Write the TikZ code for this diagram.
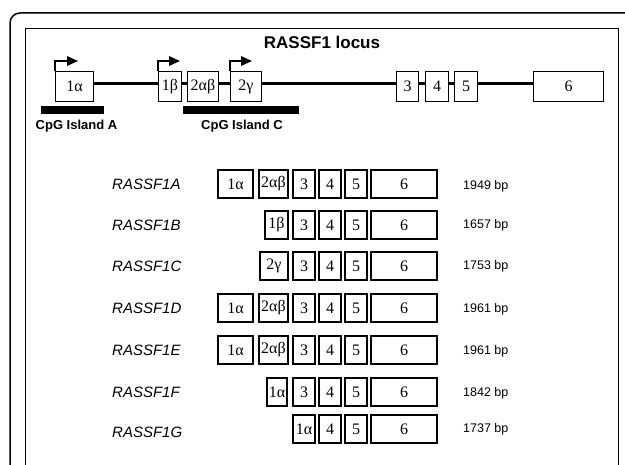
\documentclass[tikz,border=0pt]{standalone}
\usepackage{fontspec}
\setmainfont{Liberation Serif}
\setsansfont{Liberation Sans}
\usetikzlibrary{arrows.meta}

\tikzset{
  exon/.style={draw, line width=1.6pt, inner sep=0pt, minimum height=28.4pt, font=\fontsize{16}{16}\selectfont},
  lexon/.style={draw, line width=1.2pt, inner sep=0pt, minimum height=29.8pt, font=\fontsize{16}{16}\selectfont},
  intron/.style={line width=3pt},
  promoter/.style={line width=1.7pt, -{Triangle[length=11pt,width=9.5pt]}},
  isoname/.style={anchor=west, inner sep=0pt, font=\fontsize{15}{15}\sffamily\itshape},
  bplabel/.style={anchor=west, inner sep=0pt, font=\fontsize{12.5}{12.5}\sffamily},
  islandlabel/.style={font=\fontsize{13}{13}\sffamily\bfseries},
}

\begin{document}
\begin{tikzpicture}[x=1pt,y=-1pt]
    \useasboundingbox (0,0) rectangle (625,465);
    % frames
    \draw[line width=1.5pt, rounded corners=10pt] (10,475) -- (10,13) -- (635,13);
    \draw[line width=1pt] (25,475) -- (25,29) -- (618,29) -- (618,475);
    \node[font=\fontsize{17}{17}\sffamily\bfseries] (title) at (322,42) {RASSF1 locus};

    % the locus
    \node[lexon, minimum width=37.8pt] (l1a)  at (74.5,86.5)  {1α};
    \node[lexon, minimum width=22.8pt] (l1b)  at (170,86.5)   {1β};
    \node[lexon, minimum width=30.8pt] (l2ab) at (203,86.5)   {2αβ};
    \node[lexon, minimum width=30.8pt] (l2g)  at (246,86.5)   {2γ};
    \node[lexon, minimum width=21.8pt] (l3)   at (407.5,86.5) {3};
    \node[lexon, minimum width=22.8pt] (l4)   at (437,86.5)   {4};
    \node[lexon, minimum width=22.8pt] (l5)   at (466,86.5)   {5};
    \node[lexon, minimum width=69.8pt] (l6)   at (568.5,86.5) {6};
    \foreach \a/\b in {l1a/l1b, l1b/l2ab, l2ab/l2g, l2g/l3, l3/l4, l4/l5, l5/l6}
        \draw[intron] ([yshift=2.5pt]\a.east) -- ([yshift=2.5pt]\b.west);
    \draw[promoter] (l1a.north west) -- ++(0,-10) -- ++(23,0);
    \draw[promoter] (l1b.north west) -- ++(0,-10) -- ++(22,0);
    \draw[promoter] (l2g.north west) -- ++(0,-10) -- ++(22,0);

    % CpG islands
    \fill (41,106) rectangle (104,114);
    \fill (183,106) rectangle (299,114);
    \node[islandlabel] (cpgA) at (76.5,126) {CpG Island A};
    \node[islandlabel] (cpgC) at (242,126) {CpG Island C};

    % transcripts
    \node[isoname] (nA) at (112,184) {RASSF1A};
    \node[isoname] (nB) at (112,225) {RASSF1B};
    \node[isoname] (nC) at (112,266) {RASSF1C};
    \node[isoname] (nD) at (112,308) {RASSF1D};
    \node[isoname] (nE) at (112,350) {RASSF1E};
    \node[isoname] (nF) at (112,392) {RASSF1F};
    \node[isoname] (nG) at (112,432) {RASSF1G};

    \node[exon, minimum width=35.4pt] (A1a)  at (235.5,184) {1α};
    \node[exon, minimum width=29.4pt] (A2ab) at (273.5,184) {2αβ};
    \node[exon, minimum width=23.4pt] (B1b)  at (276.5,225) {1β};
    \node[exon, minimum width=28.4pt] (C2g)  at (274,266)   {2γ};
    \node[exon, minimum width=35.4pt] (D1a)  at (235.5,308) {1α};
    \node[exon, minimum width=29.4pt] (D2ab) at (273.5,308) {2αβ};
    \node[exon, minimum width=35.4pt] (E1a)  at (235.5,350) {1α};
    \node[exon, minimum width=29.4pt] (E2ab) at (273.5,350) {2αβ};
    \node[exon, minimum width=20.4pt] (F1a)  at (277,392)   {1α};
    \node[exon, minimum width=22.4pt] (G1a)  at (304,429)   {1α};
    \foreach \r/\y in {A/184, B/225, C/266, D/308, E/350, F/392}
        \node[exon, minimum width=22.4pt] (\r3) at (304,\y) {3};
    \foreach \r/\y in {A/184, B/225, C/266, D/308, E/350, F/392, G/429} {
        \node[exon, minimum width=22.4pt] (\r4) at (330,\y) {4};
        \node[exon, minimum width=22.4pt] (\r5) at (356,\y) {5};
        \node[exon, minimum width=66.4pt] (\r6) at (404,\y) {6};
    }

    \node[bplabel] (bpA) at (463,186) {1949 bp};
    \node[bplabel] (bpB) at (463,225) {1657 bp};
    \node[bplabel] (bpC) at (463,266) {1753 bp};
    \node[bplabel] (bpD) at (463,309) {1961 bp};
    \node[bplabel] (bpE) at (463,351) {1961 bp};
    \node[bplabel] (bpF) at (463,393) {1842 bp};
    \node[bplabel] (bpG) at (463,429) {1737 bp};
\end{tikzpicture}
\end{document}
